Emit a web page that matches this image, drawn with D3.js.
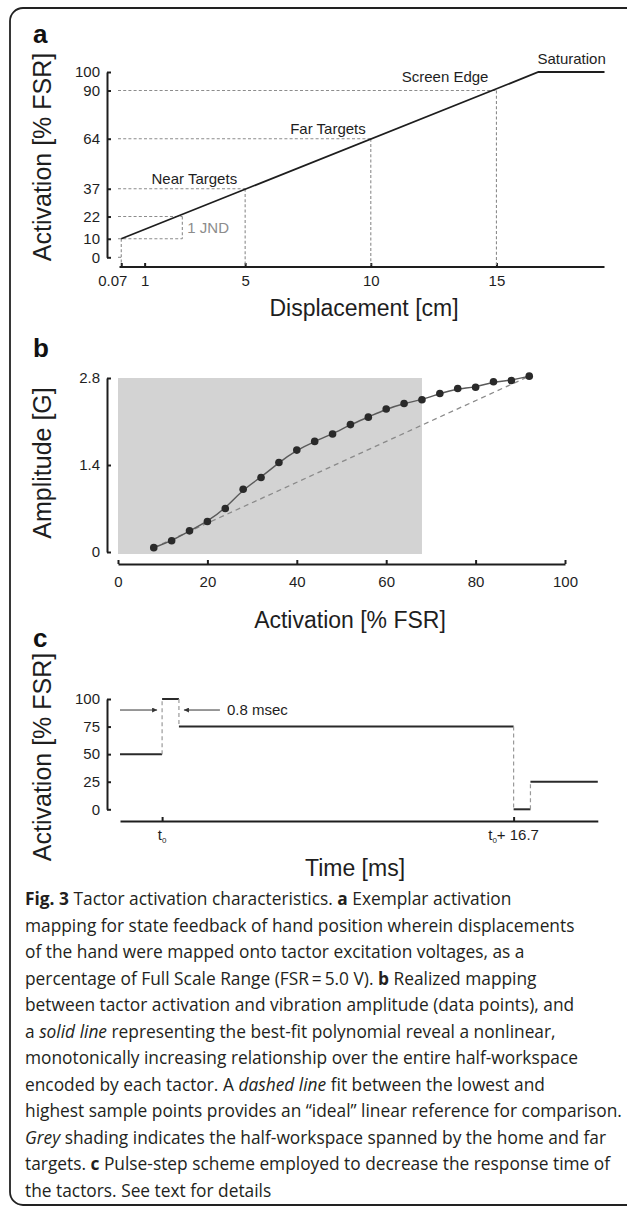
<!DOCTYPE html>
<html><head><meta charset="utf-8">
<script src="https://cdn.jsdelivr.net/npm/d3@7"></script>
<style>
html,body{margin:0;padding:0;background:#fff;}
svg{display:block;}
</style></head>
<body>
<script>
// ---------- Panel a data ----------
const mapDisp = [0.07, 16.67, 19.3];        // displacement [cm]
const mapAct  = [10, 100, 100];             // activation [% FSR]
const targetDisp = [5, 10, 15];
const targetAct  = [37, 64, 90];
const targetLabels = ["Near Targets", "Far Targets", "Screen Edge"];
const jndDisp = 2.5;
const jndAct = [10, 22];
const aYTicks = [0, 10, 22, 37, 64, 90, 100];
const aXTicks = [0.07, 1, 5, 10, 15];

// ---------- Panel b data ----------
const bActivation = [8,12,16,20,24,28,32,36,40,44,48,52,56,60,64,68,72,76,80,84,88,92];
const bAmplitude  = [0.07,0.18,0.34,0.49,0.70,1.01,1.20,1.44,1.64,1.78,1.90,2.05,2.17,2.30,2.39,2.45,2.55,2.63,2.65,2.74,2.76,2.83];
const bShade = [0, 68];
const bYTicks = [0, 1.4, 2.8];
const bXTicks = [0, 20, 40, 60, 80, 100];

// ---------- Panel c data ----------
const cTimes  = [-2, 0, 0.8, 16.7, 17.5, 20.7];   // ms relative to t0
const cLevels = [50, 100, 75, 0, 25];             // % FSR
const cYTicks = [0, 25, 50, 75, 100];
const cXTicks = [0, 16.7];
const cXLabels = [["t","0",""], ["t","0","+ 16.7"]];

// ---------- Caption ----------
const captionLines = [
  [["Fig. 3","b"],[" Tactor activation characteristics. ",""],["a","b"],[" Exemplar activation",""]],
  [["mapping for state feedback of hand position wherein displacements",""]],
  [["of the hand were mapped onto tactor excitation voltages, as a",""]],
  [["percentage of Full Scale Range (FSR\u2009=\u20095.0 V). ",""],["b","b"],[" Realized mapping",""]],
  [["between tactor activation and vibration amplitude (data points), and",""]],
  [["a ",""],["solid line","i"],[" representing the best-fit polynomial reveal a nonlinear,",""]],
  [["monotonically increasing relationship over the entire half-workspace",""]],
  [["encoded by each tactor. A ",""],["dashed line","i"],[" fit between the lowest and",""]],
  [["highest sample points provides an \u201cideal\u201d linear reference for comparison.",""]],
  [["Grey","i"],[" shading indicates the half-workspace spanned by the home and far",""]],
  [["targets. ",""],["c","b"],[" Pulse-step scheme employed to decrease the response time of",""]],
  [["the tactors. See text for details",""]]
];

const W = 627, H = 1214;
const svg = d3.select("body").append("svg").attr("width", W).attr("height", H);
const FONT = "'Liberation Sans', Arial, Helvetica, sans-serif";
const INK = "#1e1e1e", DASH = "#8c8c8c";
const TICKFS = 15, LABELFS = 15, XTITLEFS = 23, YTITLEFS = 25;

// frame
svg.append("rect").attr("x", 10).attr("y", 8).attr("width", 700).attr("height", 1197)
  .attr("rx", 13).attr("fill", "none").attr("stroke", "#222").attr("stroke-width", 1.8);

function panelLetter(t, y) {
  svg.append("text").attr("x", 33).attr("y", y).text(t)
    .attr("font-family", FONT).attr("font-weight", "bold").attr("font-size", 26).attr("fill", "#111");
}
function yTitle(t, cy) {
  svg.append("text").attr("transform", `translate(51,${cy}) rotate(-90)`)
    .attr("text-anchor", "middle").text(t)
    .attr("font-family", FONT).attr("font-size", YTITLEFS).attr("fill", INK);
}
function xTitle(t, cx, y) {
  svg.append("text").attr("x", cx).attr("y", y).attr("text-anchor", "middle").text(t)
    .attr("font-family", FONT).attr("font-size", XTITLEFS).attr("fill", INK);
}
function styleAxis(g) {
  g.selectAll("path.domain").attr("stroke", INK).attr("stroke-width", 2);
  g.selectAll(".tick line").attr("stroke", INK).attr("stroke-width", 2);
  g.selectAll(".tick text").attr("font-family", FONT).attr("font-size", TICKFS).attr("fill", INK);
}

// ================= Panel a =================
panelLetter("a", 43);
const xa = d3.scaleLinear().domain([0, 19.3]).range([119.5, 604.5]);
const ya = d3.scaleLinear().domain([0, 100]).range([257.3, 72]);
const aAxisY = 267;

const gaY = svg.append("g").attr("transform", "translate(107,0)")
  .call(d3.axisLeft(ya).tickValues(aYTicks).tickSizeInner(-4).tickSizeOuter(0).tickPadding(7));
styleAxis(gaY);
const gaX = svg.append("g").attr("transform", `translate(0,${aAxisY})`)
  .call(d3.axisBottom(xa).tickValues(aXTicks).tickFormat(d => d === 0.07 ? "0.07" : d)
    .tickSizeInner(-4).tickSizeOuter(0).tickPadding(8));
styleAxis(gaX);
gaX.select("path.domain").attr("d", `M${xa(0.0)},0H${xa(19.3)}`);
gaX.selectAll(".tick text").filter(d => d === 0.07).attr("dx", -9);

const dashG = svg.append("g").attr("stroke", DASH).attr("stroke-width", 1.1)
  .attr("stroke-dasharray", "3,2.2").attr("fill", "none");
targetDisp.forEach((d, i) => {
  dashG.append("line").attr("x1", 118).attr("x2", xa(d)).attr("y1", ya(targetAct[i])).attr("y2", ya(targetAct[i]));
  dashG.append("line").attr("x1", xa(d)).attr("x2", xa(d)).attr("y1", ya(targetAct[i])).attr("y2", aAxisY - 2);
});
jndAct.forEach(a => {
  dashG.append("line").attr("x1", 118).attr("x2", xa(jndDisp)).attr("y1", ya(a)).attr("y2", ya(a));
});
dashG.append("line").attr("x1", xa(jndDisp)).attr("x2", xa(jndDisp)).attr("y1", ya(jndAct[1])).attr("y2", ya(jndAct[0]));
dashG.append("line").attr("x1", xa(mapDisp[0])).attr("x2", xa(mapDisp[0])).attr("y1", ya(mapAct[0])).attr("y2", aAxisY - 2);
dashG.append("line").attr("x1", 118).attr("x2", xa(mapDisp[0])).attr("y1", ya(0)).attr("y2", ya(0));

const lineA = d3.line().x((d, i) => xa(mapDisp[i])).y((d, i) => ya(mapAct[i]));
svg.append("path").attr("d", lineA(mapDisp)).attr("fill", "none")
  .attr("stroke", INK).attr("stroke-width", 1.8);

const lblA = svg.append("g").attr("font-family", FONT).attr("font-size", LABELFS).attr("fill", INK);
const lblOff = [[-8, -5], [-5, -5], [-8, -9]];
targetDisp.forEach((d, i) => {
  lblA.append("text").attr("x", xa(d) + lblOff[i][0]).attr("y", ya(targetAct[i]) + lblOff[i][1])
    .attr("text-anchor", "end").text(targetLabels[i]);
});
lblA.append("text").attr("x", xa(mapDisp[1]) - 1).attr("y", ya(100) - 8).text("Saturation");
lblA.append("text").attr("x", xa(jndDisp) + 5).attr("y", (ya(jndAct[0]) + ya(jndAct[1])) / 2 + 5)
  .text("1 JND").attr("fill", "#8c8c8c");

xTitle("Displacement [cm]", 364, 316);
yTitle("Activation [% FSR]", 157);

// ================= Panel b =================
panelLetter("b", 357);
const xb = d3.scaleLinear().domain([0, 100]).range([118, 565]);
const yb = d3.scaleLinear().domain([0, 2.8]).range([552, 378]);
svg.append("rect").attr("x", xb(bShade[0])).attr("width", xb(bShade[1]) - xb(bShade[0]))
  .attr("y", yb(2.8)).attr("height", yb(0) - yb(2.8) + 2).attr("fill", "#d3d3d3");

const gbY = svg.append("g").attr("transform", "translate(107,0)")
  .call(d3.axisLeft(yb).tickValues(bYTicks).tickFormat(d => d === 0 ? "0" : d.toFixed(1))
    .tickSizeInner(-4).tickSizeOuter(0).tickPadding(7));
styleAxis(gbY);
const gbX = svg.append("g").attr("transform", "translate(0,564)")
  .call(d3.axisBottom(xb).tickValues(bXTicks).tickSizeInner(-4).tickSizeOuter(0).tickPadding(12));
styleAxis(gbX);

const n = bActivation.length;
svg.append("line").attr("x1", xb(bActivation[0])).attr("y1", yb(bAmplitude[0]))
  .attr("x2", xb(bActivation[n - 1])).attr("y2", yb(bAmplitude[n - 1]))
  .attr("stroke", "#8a8a8a").attr("stroke-width", 1.3).attr("stroke-dasharray", "5,4");
const lineB = d3.line().x((d, i) => xb(bActivation[i])).y((d, i) => yb(bAmplitude[i]))
  .curve(d3.curveBasis);
svg.append("path").attr("d", lineB(bActivation)).attr("fill", "none")
  .attr("stroke", "#5a5a5a").attr("stroke-width", 1.4);
svg.append("g").selectAll("circle").data(bActivation).join("circle")
  .attr("cx", (d) => xb(d)).attr("cy", (d, i) => yb(bAmplitude[i])).attr("r", 3.8)
  .attr("fill", "#2a2a2a");

xTitle("Activation [% FSR]", 350, 628);
yTitle("Amplitude [G]", 463);

// ================= Panel c =================
panelLetter("c", 647);
const xc = d3.scaleLinear().domain([-2, 20.7]).range([120, 597.8]);
const yc = d3.scaleLinear().domain([0, 100]).range([809.3, 699]);

const gcY = svg.append("g").attr("transform", "translate(107,0)")
  .call(d3.axisLeft(yc).tickValues(cYTicks).tickSizeInner(-4).tickSizeOuter(0).tickPadding(7));
styleAxis(gcY);
const gcX = svg.append("g").attr("transform", "translate(0,821)")
  .call(d3.axisBottom(xc).tickValues(cXTicks).tickFormat("").tickSizeInner(-4).tickSizeOuter(0));
styleAxis(gcX);
const cxl = svg.append("g").attr("font-family", FONT).attr("font-size", TICKFS).attr("fill", INK);
cXTicks.forEach((t, i) => {
  const tx = cxl.append("text").attr("x", xc(t)).attr("y", 840).attr("text-anchor", "middle");
  tx.append("tspan").text(cXLabels[i][0]);
  tx.append("tspan").text(cXLabels[i][1]).attr("font-size", 8).attr("dy", 3);
  if (cXLabels[i][2]) tx.append("tspan").text(cXLabels[i][2]).attr("dy", -3);
});

for (let i = 0; i < cLevels.length; i++) {
  svg.append("line").attr("x1", xc(cTimes[i])).attr("x2", xc(cTimes[i + 1]))
    .attr("y1", yc(cLevels[i])).attr("y2", yc(cLevels[i]))
    .attr("stroke", "#2a2a2a").attr("stroke-width", 2);
  if (i > 0) {
    svg.append("line").attr("x1", xc(cTimes[i])).attr("x2", xc(cTimes[i]))
      .attr("y1", yc(cLevels[i - 1])).attr("y2", yc(cLevels[i]))
      .attr("stroke", "#9a9a9a").attr("stroke-width", 1.2).attr("stroke-dasharray", "4,3");
  }
}
// arrows marking the 0.8 msec pulse
const defs = svg.append("defs");
defs.append("marker").attr("id", "ah").attr("viewBox", "0 0 10 10").attr("refX", 10).attr("refY", 5)
  .attr("markerWidth", 7).attr("markerHeight", 5).attr("orient", "auto")
  .append("path").attr("d", "M0,0L10,5L0,10z").attr("fill", "#333");
const arrowY = yc(90);
svg.append("line").attr("x1", xc(-2)).attr("x2", xc(cTimes[1]) - 5).attr("y1", arrowY).attr("y2", arrowY)
  .attr("stroke", "#333").attr("stroke-width", 1).attr("marker-end", "url(#ah)");
svg.append("line").attr("x1", xc(cTimes[2]) + 41).attr("x2", xc(cTimes[2]) + 5).attr("y1", arrowY).attr("y2", arrowY)
  .attr("stroke", "#333").attr("stroke-width", 1).attr("marker-end", "url(#ah)");
svg.append("text").attr("x", xc(cTimes[2]) + 48).attr("y", arrowY + 5).text("0.8 msec")
  .attr("font-family", FONT).attr("font-size", LABELFS).attr("fill", INK);

xTitle("Time [ms]", 355, 876);
yTitle("Activation [% FSR]", 757);

// ================= Caption =================
const CAPFONT = "'Open Sans', 'Noto Sans', sans-serif";
const capG = svg.append("g").attr("font-family", CAPFONT).attr("fill", "#231f20");
const capTexts = captionLines.map((segs, i) => {
  const t = capG.append("text").attr("x", 25).attr("y", 905 + i * 26.5).attr("font-size", 100);
  segs.forEach(([s, st]) => {
    const sp = t.append("tspan").text(s);
    if (st === "b") sp.attr("font-weight", "bold");
    if (st === "i") sp.attr("font-style", "italic");
  });
  return t;
});
const maxW = d3.max(capTexts, t => t.node().getComputedTextLength());
const fs = 100 * 597 / maxW;
capTexts.forEach(t => t.attr("font-size", fs));
</script>
</body></html>
